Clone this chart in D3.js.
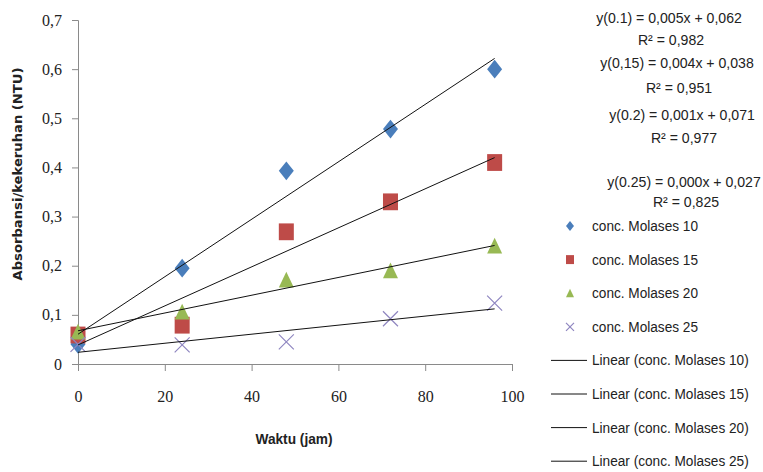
<!DOCTYPE html>
<html>
<head>
<meta charset="utf-8">
<script src="https://cdn.jsdelivr.net/npm/d3@7"></script>
<style>
  body { margin: 0; background: #fff; }
  svg { display: block; }
</style>
</head>
<body>
<svg id="chart" width="763" height="472"></svg>
<script>
// data
const hours = [0, 24, 48, 72, 96];
const seriesNames = ["conc. Molases 10", "conc. Molases 15", "conc. Molases 20", "conc. Molases 25"];
const molases10 = [0.040, 0.195, 0.393, 0.478, 0.600];
const molases15 = [0.059, 0.079, 0.269, 0.330, 0.410];
const molases20 = [0.065, 0.106, 0.171, 0.190, 0.240];
const molases25 = [0.040, 0.039, 0.045, 0.092, 0.124];
const equations = ["y(0.1) = 0,005x + 0,062", "y(0,15) = 0,004x + 0,038", "y(0.2) = 0,001x + 0,071", "y(0.25) = 0,000x + 0,027"];
const rSquared = ["R² = 0,982", "R² = 0,951", "R² = 0,977", "R² = 0,825"];
const xTicks = [0, 20, 40, 60, 80, 100];
const yTicks = [0, 0.1, 0.2, 0.3, 0.4, 0.5, 0.6, 0.7];

const allSeries = [molases10, molases15, molases20, molases25];
const colors = ["#4A7EBB", "#BE4B48", "#98B954", "#8F86C0"];
const shapes = ["diamond", "square", "triangle", "cross"];

const svg = d3.select("#chart");
const margin = { left: 78, top: 20, right: 251, bottom: 108 };
const width = 763, height = 472;

const x = d3.scaleLinear().domain([0, 100]).range([margin.left, width - margin.right]);
const y = d3.scaleLinear().domain([0, 0.7]).range([height - margin.bottom, margin.top]);

const comma = d3.formatLocale({ decimal: ",", thousands: ".", grouping: [3], currency: ["", ""] });
const fmtY = v => v === 0 ? "0" : comma.format(".1f")(v);

const tickFont = "'Liberation Serif', serif";
const textFont = "'Liberation Sans', sans-serif";

// narrow text label: the original font is more condensed than Liberation Sans
function label(g, tx, ty, str, k, anchor) {
  return g.append("text")
    .attr("transform", `translate(${tx},${ty}) scale(${k},1)`)
    .attr("text-anchor", anchor || "start")
    .text(str);
}

// axes
const yAxis = svg.append("g")
  .attr("transform", `translate(${margin.left},0)`)
  .call(d3.axisLeft(y).tickValues(yTicks).tickFormat(fmtY).tickSize(6).tickPadding(10));
const xAxis = svg.append("g")
  .attr("transform", `translate(0,${height - margin.bottom})`)
  .call(d3.axisBottom(x).tickValues(xTicks).tickFormat(d3.format("d")).tickSize(7).tickPadding(20));

[yAxis, xAxis].forEach(g => {
  g.attr("font-family", null);
  g.select(".domain").attr("stroke", "#8a8a8a");
  g.selectAll(".tick line").attr("stroke", "#8a8a8a");
  g.selectAll(".tick text")
    .attr("fill", "#222")
    .style("font-family", tickFont)
    .style("font-size", "16px");
});

// marker drawing
function marker(g, shape, cx, cy, s, color) {
  if (shape === "diamond") {
    g.append("path")
      .attr("d", `M${cx},${cy - s * 0.62}L${cx + s * 0.5},${cy}L${cx},${cy + s * 0.62}L${cx - s * 0.5},${cy}Z`)
      .attr("fill", color);
  } else if (shape === "square") {
    g.append("rect")
      .attr("x", cx - s * 0.5).attr("y", cy - s * 0.56)
      .attr("width", s).attr("height", s * 1.12)
      .attr("fill", color);
  } else if (shape === "triangle") {
    g.append("path")
      .attr("d", `M${cx},${cy - s * 0.55}L${cx + s * 0.5},${cy + s * 0.5}L${cx - s * 0.5},${cy + s * 0.5}Z`)
      .attr("fill", color);
  } else {
    const h = s * 0.5;
    g.append("path")
      .attr("d", `M${cx - h},${cy - h}L${cx + h},${cy + h}M${cx + h},${cy - h}L${cx - h},${cy + h}`)
      .attr("stroke", color).attr("stroke-width", 1.2).attr("fill", "none");
  }
}

// points
const pts = svg.append("g");
allSeries.forEach((vals, si) => {
  vals.forEach((v, i) => marker(pts, shapes[si], x(hours[i]), y(v), 15, colors[si]));
});

// least squares trend lines
function fit(xs, ys) {
  const mx = d3.mean(xs), my = d3.mean(ys);
  const sxy = d3.sum(xs, (xv, i) => (xv - mx) * (ys[i] - my));
  const sxx = d3.sum(xs, xv => (xv - mx) * (xv - mx));
  const b = sxy / sxx;
  return { b, a: my - b * mx };
}
const trend = svg.append("g");
allSeries.forEach(vals => {
  const f = fit(hours, vals);
  const x0 = hours[0], x1 = hours[hours.length - 1];
  trend.append("line")
    .attr("x1", x(x0)).attr("y1", y(f.a + f.b * x0))
    .attr("x2", x(x1)).attr("y2", y(f.a + f.b * x1))
    .attr("stroke", "#111").attr("stroke-width", 1);
});

// axis titles
svg.append("text")
  .attr("transform", "translate(22,174) rotate(-90)")
  .attr("text-anchor", "middle")
  .style("font-family", "'DejaVu Sans', sans-serif")
  .style("font-weight", "bold")
  .style("font-size", "13px")
  .attr("textLength", 213).attr("lengthAdjust", "spacingAndGlyphs")
  .attr("fill", "#222")
  .text("Absorbansi/kekeruhan (NTU)");

svg.append("text")
  .attr("x", 294).attr("y", 444)
  .attr("text-anchor", "middle")
  .style("font-family", textFont)
  .style("font-weight", "bold")
  .style("font-size", "15px")
  .attr("textLength", 77).attr("lengthAdjust", "spacingAndGlyphs")
  .attr("fill", "#222")
  .text("Waktu (jam)");

// regression equations
const eqY = [[18, 40], [63, 88], [115, 138], [182, 202]];
const eqX = [669, 677, 682, 684];
const eqText = svg.append("g")
  .style("font-family", textFont).style("font-size", "15px")
  .attr("fill", "#222");
equations.forEach((e, i) => {
  label(eqText, eqX[i], eqY[i][0] + 5, e, 0.94, "middle");
  label(eqText, eqX[i] + 2, eqY[i][1] + 5, rSquared[i], 0.94, "middle");
});

// legend
const legend = svg.append("g")
  .style("font-family", textFont).style("font-size", "15.5px")
  .attr("fill", "#222");
const rowY = d3.range(8).map(i => 226 + i * 33.6);
seriesNames.forEach((n, i) => {
  marker(legend, shapes[i], 570, rowY[i], 8, colors[i]);
  label(legend, 592, rowY[i] + 5, n, 0.88);
});
seriesNames.forEach((n, i) => {
  const yy = rowY[i + 4];
  legend.append("line")
    .attr("x1", 551).attr("x2", 587).attr("y1", yy).attr("y2", yy)
    .attr("stroke", "#111").attr("stroke-width", 1);
  label(legend, 592, yy + 5, `Linear (${n})`, 0.88);
});
</script>
</body>
</html>
